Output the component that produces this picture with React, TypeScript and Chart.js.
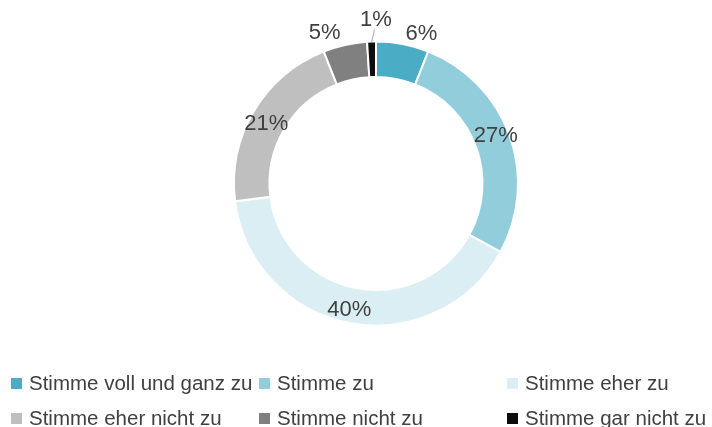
import React, { useEffect, useRef } from "react";
import { Chart, registerables } from "chart.js";

Chart.register(...registerables);

const categories = [
  "Stimme voll und ganz zu",
  "Stimme zu",
  "Stimme eher zu",
  "Stimme eher nicht zu",
  "Stimme nicht zu",
  "Stimme gar nicht zu",
];
const values = [6, 27, 40, 21, 5, 1];
const valueLabels = ["6%", "27%", "40%", "21%", "5%", "1%"];

const colors = ["#4BACC6", "#92CDDC", "#DAEEF3", "#BFBFBF", "#808080", "#0D0D0D"];
// label placement styling: radial offset from outer radius (px) and angular shift (deg)
const labelRadialOffset = [14, -13, -13, -17, 17, 22];
const labelAngleShift = [6.1, -2, 1.2, -1.9, -6.2, 1.8];
const labelLeader = [false, false, false, false, false, true];

const FONT = "'Liberation Sans', Arial, sans-serif";
const TEXT_COLOR = "#404040";

const sliceLabelPlugin = {
  id: "sliceLabels",
  afterDatasetsDraw(chart: any) {
    const meta = chart.getDatasetMeta(0);
    const ctx = chart.ctx;
    ctx.save();
    ctx.font = `22px ${FONT}`;
    ctx.fillStyle = TEXT_COLOR;
    ctx.textAlign = "center";
    ctx.textBaseline = "middle";
    meta.data.forEach((arc: any, i: number) => {
      const p = arc.getProps(["x", "y", "startAngle", "endAngle", "outerRadius"], true);
      const mid = (p.startAngle + p.endAngle) / 2;
      const ang = mid + (labelAngleShift[i] * Math.PI) / 180;
      const r = p.outerRadius + labelRadialOffset[i];
      const lx = p.x + Math.cos(ang) * r;
      const ly = p.y + Math.sin(ang) * r;
      if (labelLeader[i]) {
        ctx.save();
        ctx.strokeStyle = "#A6A6A6";
        ctx.lineWidth = 1;
        ctx.beginPath();
        ctx.moveTo(lx - 1.5, ly + 10);
        ctx.lineTo(p.x + Math.cos(mid) * (p.outerRadius - 1), p.y + Math.sin(mid) * (p.outerRadius - 1));
        ctx.stroke();
        ctx.restore();
      }
      ctx.fillText(valueLabels[i], lx, ly);
    });
    ctx.restore();
  },
};

const gridLegendPlugin = {
  id: "gridLegend",
  afterDraw(chart: any) {
    const ctx = chart.ctx;
    const labels: string[] = chart.data.labels;
    const bg: string[] = chart.data.datasets[0].backgroundColor;
    const colStart = 11;
    const colWidth = 248;
    const rowBase = 390;
    const rowGap = 35;
    ctx.save();
    ctx.font = `20.5px ${FONT}`;
    ctx.textAlign = "left";
    ctx.textBaseline = "alphabetic";
    labels.forEach((lab, i) => {
      const col = i % 3;
      const row = Math.floor(i / 3);
      const x = colStart + col * colWidth;
      const base = rowBase + row * rowGap;
      ctx.fillStyle = bg[i];
      ctx.fillRect(x, base - 12, 11, 11);
      ctx.fillStyle = TEXT_COLOR;
      ctx.fillText(lab, x + 18, base);
    });
    ctx.restore();
  },
};

export default function App() {
  const ref = useRef<HTMLCanvasElement | null>(null);
  useEffect(() => {
    document.body.style.margin = "0";
    if (!ref.current) return;
    const chart = new Chart(ref.current, {
      type: "doughnut",
      data: {
        labels: categories,
        datasets: [
          {
            data: values,
            backgroundColor: colors,
            borderColor: "#FFFFFF",
            borderWidth: 2,
          },
        ],
      },
      options: {
        animation: false,
        responsive: false,
        maintainAspectRatio: false,
        radius: 142,
        cutout: "75%",
        rotation: 0,
        layout: { padding: { left: 40, right: 0, top: 0, bottom: 60 } },
        plugins: {
          legend: { display: false },
          tooltip: { enabled: false },
        },
      } as any,
      plugins: [sliceLabelPlugin, gridLegendPlugin],
    });
    return () => chart.destroy();
  }, []);
  return (
    <div style={{ width: 712, height: 427, background: "#fff" }}>
      <canvas ref={ref} width={712} height={427} style={{ display: "block" }} />
    </div>
  );
}
